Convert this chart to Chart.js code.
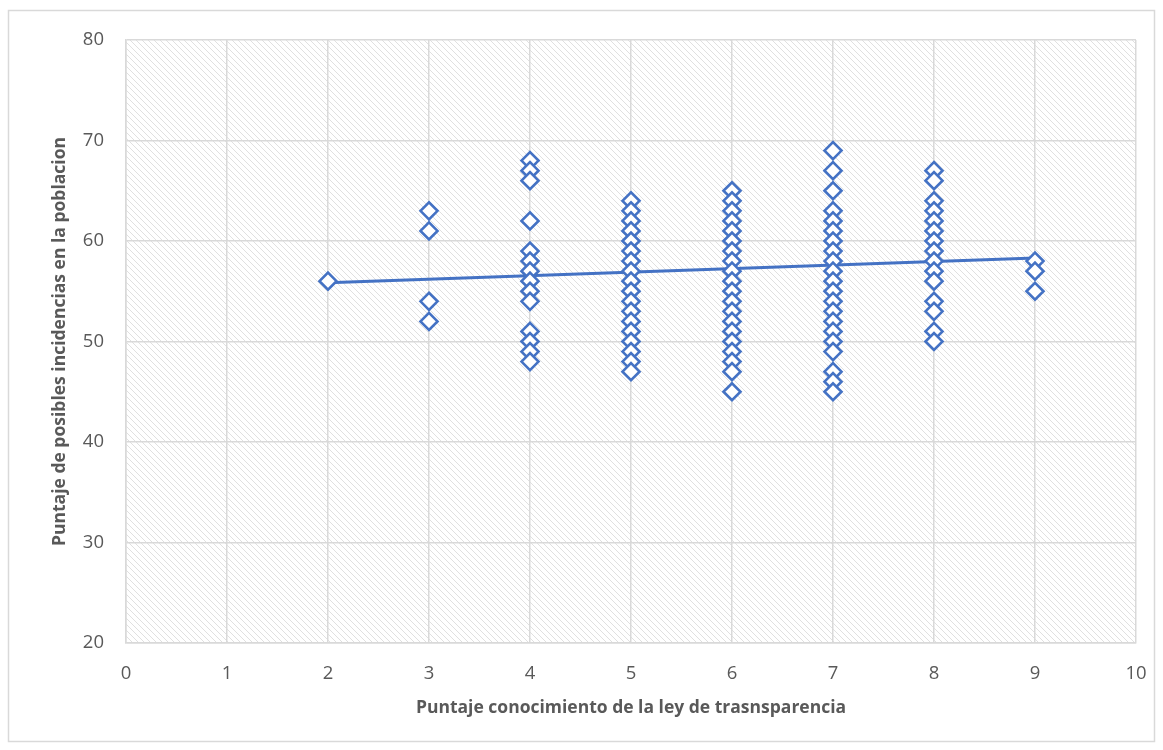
<!DOCTYPE html>
<html>
<head>
<meta charset="utf-8">
<script src="https://cdn.jsdelivr.net/npm/chart.js@4.4.1/dist/chart.umd.min.js"></script>
<style>
  html, body { margin: 0; padding: 0; background: #ffffff; }
  #wrap { width: 1163px; height: 750px; position: relative; }
</style>
</head>
<body>
<div id="wrap"><canvas id="chart" width="1163" height="750"></canvas></div>
<script>
// Puntaje conocimiento (x) and the incidence scores seen at each x
const knowledgeScores = [2, 3, 4, 5, 6, 7, 8, 9]
const incidenceAt2 = [56]
const incidenceAt3 = [63, 61, 54, 52]
const incidenceAt4 = [68, 67, 66, 62, 59, 58, 57, 56, 55, 54, 51, 50, 49, 48]
const incidenceAt5 = [64, 63, 62, 61, 60, 59, 58, 57, 56, 55, 54, 53, 52, 51, 50, 49, 48, 47]
const incidenceAt6 = [65, 64, 63, 62, 61, 60, 59, 58, 57, 56, 55, 54, 53, 52, 51, 50, 49, 48, 47, 45]
const incidenceAt7 = [69, 67, 65, 63, 62, 61, 60, 59, 58, 57, 56, 55, 54, 53, 52, 51, 50, 49, 47, 46, 45]
const incidenceAt8 = [67, 66, 64, 63, 62, 61, 60, 59, 58, 57, 56, 54, 53, 51, 50]
const incidenceAt9 = [58, 57, 55]
const incidenceColumns = [incidenceAt2, incidenceAt3, incidenceAt4, incidenceAt5, incidenceAt6, incidenceAt7, incidenceAt8, incidenceAt9]

// trend line
const trendX = [2, 9]
const trendY = [55.85, 58.3]

const xTicks = [0, 1, 2, 3, 4, 5, 6, 7, 8, 9, 10]
const yTicks = [20, 30, 40, 50, 60, 70, 80]

const blue = "#4472c4"
const textGrey = "#595959"
const gridGrey = "#d9d9d9"

const points = knowledgeScores.flatMap((x, i) => incidenceColumns[i].map((y) => ({ x, y })))
const trend = trendX.map((x, i) => ({ x, y: trendY[i] }))

function hatchPattern(ctx) {
  const tile = document.createElement("canvas")
  tile.width = 6
  tile.height = 6
  const t = tile.getContext("2d")
  t.strokeStyle = "#dcdcdc"
  t.lineWidth = 0.9
  t.beginPath()
  t.moveTo(-1, -1)
  t.lineTo(7, 7)
  t.moveTo(-1, 5)
  t.lineTo(1, 7)
  t.moveTo(5, -1)
  t.lineTo(7, 1)
  t.stroke()
  return ctx.createPattern(tile, "repeat")
}

const canvas = document.getElementById("chart")

new Chart(canvas, {
  type: "scatter",
  data: {
    datasets: [
      {
        label: "Puntaje",
        data: points,
        pointStyle: "rectRot",
        pointRadius: 8.5,
        pointBorderWidth: 2.6,
        pointBackgroundColor: "#ffffff",
        pointBorderColor: blue,
        showLine: false,
        order: 1
      },
      {
        label: "Lineal",
        data: trend,
        showLine: true,
        borderColor: blue,
        borderWidth: 3,
        pointRadius: 0,
        order: 2
      }
    ]
  },
  options: {
    responsive: false,
    animation: false,
    layout: { padding: { top: 40, right: 27, left: 46, bottom: 27 } },
    plugins: {
      legend: { display: false },
      tooltip: { enabled: false }
    },
    scales: {
      x: {
        type: "linear",
        min: xTicks[0],
        max: xTicks[xTicks.length - 1],
        afterBuildTicks: (axis) => { axis.ticks = xTicks.map((value) => ({ value })) },
        afterFit: (axis) => {
          axis.height = 80
          axis.paddingRight = 0
          axis.paddingLeft = 0
        },
        grid: { color: gridGrey, lineWidth: 1.5, drawTicks: false },
        border: { color: gridGrey, width: 1.5 },
        ticks: { color: textGrey, padding: 20, font: { family: "Open Sans", size: 18.5 } },
        title: {
          display: true,
          text: "Puntaje conocimiento de la ley de trasnsparencia",
          color: textGrey,
          padding: { top: 4, bottom: 4 },
          font: { family: "Open Sans", size: 17.5, weight: "bold" }
        }
      },
      y: {
        type: "linear",
        min: yTicks[0],
        max: yTicks[yTicks.length - 1],
        afterBuildTicks: (axis) => { axis.ticks = yTicks.map((value) => ({ value })) },
        afterFit: (axis) => { axis.width = 80 },
        grid: { color: gridGrey, lineWidth: 1.5, drawTicks: false },
        border: { color: gridGrey, width: 1.5 },
        ticks: { color: textGrey, padding: 22, font: { family: "Open Sans", size: 18.5 } },
        title: {
          display: true,
          text: "Puntaje de posibles incidencias en la poblacion",
          color: textGrey,
          padding: { top: 4, bottom: 4 },
          font: { family: "Open Sans", size: 17.5, weight: "bold" }
        }
      }
    }
  },
  plugins: [{
    id: "hatchAndFrame",
    beforeDraw: (chart) => {
      const { ctx, chartArea } = chart
      if (!chartArea) return
      ctx.save()
      ctx.fillStyle = hatchPattern(ctx)
      ctx.fillRect(chartArea.left, chartArea.top, chartArea.right - chartArea.left, chartArea.bottom - chartArea.top)
      ctx.strokeStyle = gridGrey
      ctx.lineWidth = 1.5
      ctx.strokeRect(8.5, 10.5, 1146, 731)
      ctx.restore()
    }
  }]
})
</script>
</body>
</html>
